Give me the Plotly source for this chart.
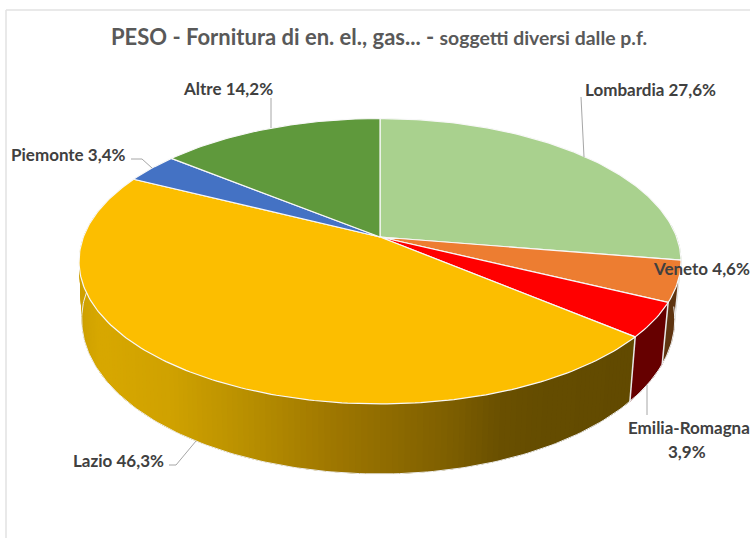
import numpy as np
import plotly.graph_objects as go

categories = ["Lombardia", "Veneto", "Emilia-Romagna", "Lazio", "Piemonte", "Altre"]
values = [27.6, 4.6, 3.9, 46.3, 3.4, 14.2]
top_colors = ["#A9D18E", "#ED7D31", "#FF0000", "#FCBE00", "#4472C4", "#5F993C"]
side_colors = ["#6E8F58", "#5E3410", "#660000", None, "#2A4A80", "#3D6426"]

# gradient of the Lazio side, by horizontal pixel position
grad_x = [79, 100, 170, 250, 330, 450, 500, 540, 640]
grad_rgb = [(205, 160, 0), (216, 168, 0), (208, 162, 0), (184, 143, 0), (160, 120, 0),
            (126, 95, 0), (106, 80, 0), (101, 77, 0), (98, 74, 0)]

# Camera model: perspective projection of the disc onto the page
K = 0.1698
APEX = (380, 237)
TOP_A, TOP_B = 296.6, 138.6
LOW_A_R, LOW_A_L, LOW_B, LOW_Y = 290.5, 294.0, 150.0, 293.3


def rim(theta_deg, lower=False):
    t = np.radians(theta_deg)
    X, Y = np.sin(t), np.cos(t)
    w = 1 + K * Y
    if lower:
        a = LOW_A_R if X >= 0 else LOW_A_L
        return APEX[0] + a * X / w, LOW_Y - LOW_B * Y / w
    return APEX[0] + TOP_A * X / w, APEX[1] - TOP_B * Y / w


def lerp_color(x):
    return "rgb(%d,%d,%d)" % tuple(np.interp(x, grad_x, [c[i] for c in grad_rgb]) for i in range(3))


edges = np.concatenate([[0], np.cumsum(values)]) * 3.6
fig = go.Figure()


def poly(xs, ys, fill, line=None, width=1.0):
    fig.add_trace(go.Scatter(x=list(xs), y=list(ys), mode="lines", fill="toself", fillcolor=fill,
                             line=dict(color=line or fill, width=width), hoverinfo="skip", showlegend=False))


# side wall
for i, cat in enumerate(categories):
    a0, a1 = max(edges[i], 85), min(edges[i + 1], 285)
    if a1 <= a0:
        continue
    if side_colors[i] is None:
        # painted from the far left towards the right, each strip overlapping the previous one
        steps = np.arange(a1 - 1.0, a0 - 1.0, -1.0)
        for s in steps:
            lo = max(s - 3.0, a0)
            th = np.linspace(lo, s + 1.0, 5)
            t = [rim(v) for v in th]
            b = [rim(v, True) for v in th[::-1]]
            pts = t + b
            xc = 0.5 * (rim(s + 0.5)[0] + rim(s + 0.5, True)[0])
            poly([p[0] for p in pts], [p[1] for p in pts], lerp_color(xc), width=0)
    else:
        th = np.linspace(a0, a1, 40)
        t = [rim(v) for v in th]
        b = [rim(v, True) for v in th[::-1]]
        pts = t + b
        poly([p[0] for p in pts], [p[1] for p in pts], side_colors[i], width=0.5)

# white seams and bottom rim of the wall
for e in edges[1:4]:
    p, q = rim(e), rim(e, True)
    fig.add_trace(go.Scatter(x=[p[0], q[0]], y=[p[1], q[1]], mode="lines", line=dict(color="#e8e8e8", width=1.5),
                             hoverinfo="skip", showlegend=False))
th = np.linspace(95, 280, 200)
low = [rim(v, True) for v in th]
fig.add_trace(go.Scatter(x=[p[0] for p in low], y=[p[1] for p in low], mode="lines",
                         line=dict(color="#eeeeee", width=1), hoverinfo="skip", showlegend=False))

# top face
for i, cat in enumerate(categories):
    th = np.linspace(edges[i], edges[i + 1], max(int(values[i] * 4), 8))
    pts = [rim(v) for v in th]
    poly([APEX[0]] + [p[0] for p in pts] + [APEX[0]], [APEX[1]] + [p[1] for p in pts] + [APEX[1]],
         top_colors[i], line="#f8f8f8", width=1.2)


def lab(i):
    return f"{categories[i]} {str(values[i]).replace('.', ',')}%"


FONT = "Lato, Carlito, sans-serif"
LAB = dict(family=FONT, size=17, color="#404040", weight="bold")
ann = [
    dict(x=379, y=36, text='<b>PESO - Fornitura di en. el., gas... - </b><b style="font-size:19.4px">soggetti diversi dalle p.f.</b>',
         font=dict(family=FONT, size=22, color="#595959"), xanchor="center", yanchor="middle"),
    dict(x=585, y=89, text=lab(0), font=LAB, xanchor="left", yanchor="middle"),
    dict(x=750, y=268, text=lab(1), font=LAB, xanchor="right", yanchor="middle"),
    dict(x=750, y=427, text=categories[2], font=LAB, xanchor="right", yanchor="middle"),
    dict(x=687, y=451, text=str(values[2]).replace(".", ",") + "%", font=LAB, xanchor="center", yanchor="middle"),
    dict(x=164, y=460, text=lab(3), font=LAB, xanchor="right", yanchor="middle"),
    dict(x=126, y=154, text=lab(4), font=LAB, xanchor="right", yanchor="middle"),
    dict(x=273, y=88, text=lab(5), font=LAB, xanchor="right", yanchor="middle"),
]
for a in ann:
    a.update(xref="x", yref="y", showarrow=False, borderpad=0, borderwidth=0)

leader = dict(color="#a6a6a6", width=1)
shapes = [
    dict(type="path", path=p, line=leader, layer="above") for p in [
        "M581,97 L584,157", "M271,98 L271,128", "M131,159 L142,159 L152,168",
        "M169,465 L176,465 L196,441", "M647,385 L647,415"]
] + [
    dict(type="line", x0=6, x1=6, y0=10, y1=538, line=dict(color="#e2e2e2", width=1.5), layer="below"),
    dict(type="line", x0=6, x1=750, y0=10, y1=10, line=dict(color="#e2e2e2", width=1.5), layer="below"),
]

fig.update_layout(
    width=750, height=538, margin=dict(l=0, r=0, t=0, b=0), paper_bgcolor="white", plot_bgcolor="white",
    xaxis=dict(range=[0, 750], visible=False, fixedrange=True),
    yaxis=dict(range=[538, 0], visible=False, fixedrange=True),
    annotations=ann, shapes=shapes, showlegend=False,
)
fig.write_html("out.html", config=dict(displayModeBar=False),
               post_script="document.body.style.margin='0';document.documentElement.style.overflow='hidden';")
